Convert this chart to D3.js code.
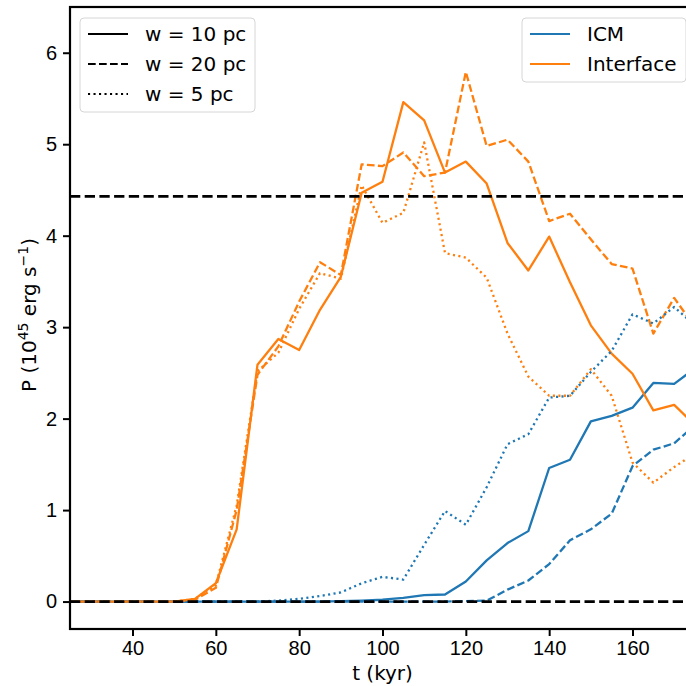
<!DOCTYPE html>
<html>
<head>
<meta charset="utf-8">
<script src="https://cdn.jsdelivr.net/npm/d3@7"></script>
<style>
  body { margin: 0; background: #fff; }
  svg { display: block; font-family: "DejaVu Sans", sans-serif; }
</style>
</head>
<body>
<div id="chart"></div>
<script>
// time samples (kyr)
const times = [25, 30, 35, 40, 45, 50, 55, 60, 65, 70, 75, 80, 85, 90, 95, 100,
  105, 110, 115, 120, 125, 130, 135, 140, 145, 150, 155, 160, 165, 170, 175];

// interface power, 10^45 erg/s
const ifaceW10 = [0, 0, 0, 0, 0, 0, 0.03, 0.2, 0.79, 2.59, 2.87, 2.75, 3.19, 3.55, 4.47, 4.59,
  5.46, 5.26, 4.69, 4.81, 4.57, 3.92, 3.62, 3.99, 3.49, 3.02, 2.71, 2.49, 2.09, 2.15, 1.93];
const ifaceW20 = [0, 0, 0, 0, 0, 0, 0.02, 0.15, 1.0, 2.48, 2.79, 3.28, 3.71, 3.57, 4.78, 4.76,
  4.91, 4.65, 4.69, 5.79, 4.98, 5.05, 4.81, 4.16, 4.24, 3.96, 3.69, 3.64, 2.93, 3.32, 3.0];
const ifaceW5 = [0, 0, 0, 0, 0, 0, 0.03, 0.18, 1.05, 2.52, 2.72, 3.2, 3.59, 3.53, 4.55, 4.14,
  4.25, 5.02, 3.81, 3.76, 3.54, 2.93, 2.46, 2.25, 2.25, 2.54, 2.25, 1.52, 1.3, 1.47, 1.62];

// ICM power
const icmW10 = [0, 0, 0, 0, 0, 0, 0, 0, 0, 0, 0, 0, 0, 0.005, 0.01, 0.02,
  0.04, 0.07, 0.077, 0.22, 0.45, 0.64, 0.77, 1.46, 1.55, 1.97, 2.03, 2.12, 2.39, 2.38, 2.55];
const icmW20 = [0, 0, 0, 0, 0, 0, 0, 0, 0, 0, 0, 0, 0, 0, 0, 0,
  0, 0, 0, 0.005, 0.01, 0.13, 0.23, 0.41, 0.67, 0.79, 0.96, 1.48, 1.66, 1.73, 1.93];
const icmW5 = [0, 0, 0, 0, 0, 0, 0, 0, 0, 0, 0.01, 0.03, 0.06, 0.1, 0.2, 0.27,
  0.24, 0.62, 0.99, 0.84, 1.25, 1.72, 1.83, 2.23, 2.25, 2.51, 2.74, 3.14, 3.04, 3.22, 3.02];

// reference levels
const hLines = [4.43, 0];

const xTicks = [40, 60, 80, 100, 120, 140, 160];
const yTicks = [0, 1, 2, 3, 4, 5, 6];

const C0 = "#1f77b4", C1 = "#ff7f0e";
const styles = {
  w10: null,
  w20: "7.7,3.3",
  w5: "2.1,3.4"
};
const fs = "20px";

const svgWidth = 686, svgHeight = 686;
const margin = { top: 7, left: 70 };
const width = 625, height = 622;

const svg = d3.select("#chart").append("svg")
  .attr("width", svgWidth)
  .attr("height", svgHeight);

const x = d3.scaleLinear().domain([25, 175]).range([margin.left, margin.left + width]);
const y = d3.scaleLinear().domain([-0.3, 6.5]).range([margin.top + height, margin.top]);

svg.append("clipPath").attr("id", "clip")
  .append("rect")
  .attr("x", margin.left).attr("y", margin.top)
  .attr("width", width).attr("height", height);

const plot = svg.append("g").attr("clip-path", "url(#clip)");

const line = d3.line().x((d, i) => x(times[i])).y(d => y(d));

// same order as the original loop: for each width, ICM then interface
const series = [
  { v: icmW10, c: C0, dash: styles.w10 },
  { v: ifaceW10, c: C1, dash: styles.w10 },
  { v: icmW20, c: C0, dash: styles.w20 },
  { v: ifaceW20, c: C1, dash: styles.w20 },
  { v: icmW5, c: C0, dash: styles.w5 },
  { v: ifaceW5, c: C1, dash: styles.w5 }
];

series.forEach(s => {
  plot.append("path")
    .attr("d", line(s.v))
    .attr("fill", "none")
    .attr("stroke", s.c)
    .attr("stroke-width", 2.3)
    .attr("stroke-linejoin", "round")
    .attr("stroke-dasharray", s.dash);
});

plot.selectAll(".hline")
  .data(hLines)
  .join("line")
  .attr("x1", x(25)).attr("x2", x(175))
  .attr("y1", d => y(d)).attr("y2", d => y(d))
  .attr("stroke", "#000")
  .attr("stroke-width", 2.7)
  .attr("stroke-dasharray", "10.3,4.4");

// axes
const bottomAxis = d3.axisBottom(x).tickValues(xTicks).tickSize(7).tickPadding(5).tickFormat(d3.format("d"));
const leftAxis = d3.axisLeft(y).tickValues(yTicks).tickSize(7).tickPadding(6).tickFormat(d3.format("d"));

const gx = svg.append("g")
  .attr("transform", `translate(0, ${margin.top + height})`)
  .call(bottomAxis);
const gy = svg.append("g")
  .attr("transform", `translate(${margin.left}, 0)`)
  .call(leftAxis);

[gx, gy].forEach(g => {
  g.select(".domain").remove();
  g.selectAll(".tick line").attr("stroke", "#000").attr("stroke-width", 2);
  g.selectAll(".tick text").attr("fill", "#000").style("font-size", fs);
});

// frame
svg.append("rect")
  .attr("x", margin.left).attr("y", margin.top)
  .attr("width", width).attr("height", height)
  .attr("fill", "none")
  .attr("stroke", "#000")
  .attr("stroke-width", 2.2);

// axis labels
svg.append("text")
  .attr("x", margin.left + width / 2)
  .attr("y", 680)
  .attr("text-anchor", "middle")
  .style("font-size", fs)
  .text("t (kyr)");

const yl = svg.append("text")
  .attr("transform", `translate(36, ${margin.top + height / 2 - 3}) rotate(-90)`)
  .attr("text-anchor", "middle")
  .style("font-size", fs);
yl.append("tspan").text("P (10");
yl.append("tspan").attr("dy", -8).style("font-size", "14px").text("45");
yl.append("tspan").attr("dy", 8).text(" erg s");
yl.append("tspan").attr("dy", -8).style("font-size", "14px").text("\u22121");
yl.append("tspan").attr("dy", 8).text(")");

// legends
function legend(x0, y0, w, h, items) {
  const g = svg.append("g");
  g.append("rect")
    .attr("x", x0).attr("y", y0).attr("width", w).attr("height", h)
    .attr("rx", 4)
    .attr("fill", "#fff").attr("fill-opacity", 0.8)
    .attr("stroke", "#d6d6d6").attr("stroke-width", 1);
  items.forEach((it, i) => {
    const yy = y0 + 16 + i * 30;
    g.append("line")
      .attr("x1", x0 + 8).attr("x2", x0 + 48)
      .attr("y1", yy).attr("y2", yy)
      .attr("stroke", it.c).attr("stroke-width", 2.2)
      .attr("stroke-dasharray", it.dash);
    g.append("text")
      .attr("x", x0 + 65).attr("y", yy + 7)
      .style("font-size", fs)
      .text(it.label);
  });
}

legend(80, 18, 175, 94, [
  { label: "w = 10 pc", c: "#000", dash: styles.w10 },
  { label: "w = 20 pc", c: "#000", dash: styles.w20 },
  { label: "w = 5 pc", c: "#000", dash: styles.w5 }
]);

legend(522, 18, 164, 64, [
  { label: "ICM", c: C0, dash: null },
  { label: "Interface", c: C1, dash: null }
]);
</script>
</body>
</html>
